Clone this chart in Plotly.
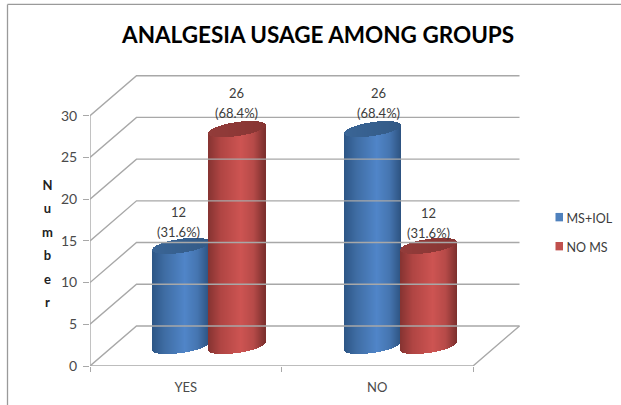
import numpy as np
import plotly.graph_objects as go

# ---- data ----
categories = ["YES", "NO"]
ms_iol = [12, 26]
no_ms = [26, 12]
ms_iol_labels = ["12<br>(31.6%)", "26<br>(68.4%)"]
no_ms_labels = ["26<br>(68.4%)", "12<br>(31.6%)"]
y_ticks = [0, 5, 10, 15, 20, 25, 30]

# ---- geometry (pixels) ----
W, H = 621, 405
PX_L, PX_R, PX_T, PX_B = 90, 525, 70, 365.7
UX = 191.5          # px per category
UY = 250 / 30       # px per unit
DX, DY = 46.5 / UX, 40 / UY   # depth in data units
xr = [-0.5, -0.5 + (PX_R - PX_L) / UX]
yr = [0, (PX_B - PX_T) / UY]
GREY = "#a8a8a8"
TXT = "#4a4a4a"
FONT = "Lato"


def px(a):
    return (a - PX_L) / (PX_R - PX_L)


def py(b):
    return 1 - (b - PX_T) / (PX_B - PX_T)


def hexrgb(c):
    return np.array([int(c[i:i + 2], 16) for i in (1, 3, 5)], float)


def shade(stops, u):
    us = [s[0] for s in stops]
    cols = np.array([hexrgb(s[1]) for s in stops])
    rgb = [np.interp(u, us, cols[:, k]) for k in range(3)]
    return "rgb(%d,%d,%d)" % tuple(int(round(v)) for v in rgb)


BLUE = [(-1, "#2c5585"), (-0.55, "#3f6da4"), (0.15, "#5085c8"), (0.6, "#4575b0"), (1, "#2d5380")]
RED = [(-1, "#853331"), (-0.55, "#b04543"), (0.15, "#cd5452"), (0.6, "#b64a48"), (1, "#7b2f2d")]
BLUE_CAP = [(-1, "#3a6596"), (1, "#335a86")]
RED_CAP = [(-1, "#933c3a"), (1, "#873533")]

HALF = 28.5 / UX   # cylinder half width
TILT = 4 / UY      # rise of the ellipse from centre to right edge
MINOR = 7 / UY     # half height of the ellipse
STRIPS = 57
GROUP_OFF = 28 / UX


def cylinder(xc, value, stops, cap_stops):
    edges = np.linspace(-1, 1, STRIPS + 1)
    u = (edges[:-1] + edges[1:]) / 2
    s = np.sqrt(1 - u ** 2)
    x = xc + DX / 2 + u * HALF
    w = np.full(STRIPS, 2 * HALF / STRIPS)
    bc = DY / 2
    body_base = bc + TILT * u - MINOR * s
    body_top = bc + value + TILT * u - MINOR * s
    cap_top = bc + value + TILT * u + MINOR * s
    return [
        go.Bar(x=x, y=body_top - body_base, base=body_base, width=w,
               marker=dict(color=[shade(stops, v) for v in u], line_width=0),
               showlegend=False, hoverinfo="skip"),
        go.Bar(x=x, y=cap_top - body_top, base=body_top, width=w,
               marker=dict(color=[shade(cap_stops, v) for v in u], line_width=0),
               showlegend=False, hoverinfo="skip"),
    ]


fig = go.Figure()


def line(xs, ys):
    fig.add_trace(go.Scatter(x=xs, y=ys, mode="lines", line=dict(color=GREY, width=1.4),
                             showlegend=False, hoverinfo="skip"))


x0, x1 = -0.5, 1.5
for v in y_ticks:
    line([x0, x0 + DX, x1 + DX], [v, v + DY, v + DY])
line([x0, x0], [0, 30])
line([x0, x1, x1 + DX], [0, 0, DY])

for i in range(len(categories)):
    for t in cylinder(i - GROUP_OFF, ms_iol[i], BLUE, BLUE_CAP):
        fig.add_trace(t)
    for t in cylinder(i + GROUP_OFF, no_ms[i], RED, RED_CAP):
        fig.add_trace(t)

# legend entries (text from the legend; swatches placed close to the text below)
LEG_COL = {"MS+IOL": "#4f81bd", "NO MS": "#c0504d"}
for name in LEG_COL:
    fig.add_trace(go.Scatter(x=[None], y=[None], mode="markers", name=name, legendgroup=name,
                             marker=dict(symbol="square", size=8, color="rgba(0,0,0,0)")))

# data labels
annos = []
label_shift = {(0, 0): (-3, -4), (0, 1): (-1, -2), (1, 0): (6, -2), (1, 1): (0, -5)}
for i in range(len(categories)):
    for j, (vals, labs) in enumerate(((ms_iol, ms_iol_labels), (no_ms, no_ms_labels))):
        off = -GROUP_OFF if j == 0 else GROUP_OFF
        a, b = labs[i].split("<br>")
        sx, sy = label_shift[(i, j)]
        annos.append(dict(
            x=i + off + DX / 2, y=vals[i] + DY / 2 + MINOR + 0.1,
            xref="x", yref="y", yanchor="bottom", xanchor="center",
            xshift=sx, yshift=sy, showarrow=False, align="center",
            text=f'<span style="font-size:13px">{a}</span><br><span style="font-size:13px">{b}</span>',
            font=dict(family=FONT, size=15, color="#3c3c3c"),
        ))

# vertical axis title
letters = "<br>".join(f'<span style="font-size:13px">{c}</span>' for c in "Number")
annos.append(dict(
    x=px(47), y=py(243), xref="paper", yref="paper", showarrow=False, align="center",
    xanchor="center", yanchor="middle",
    text=f"<b>{letters}</b>", font=dict(family=FONT, size=18, color="#222222"),
))

# title
annos.append(dict(
    x=px(317), y=py(35), xref="paper", yref="paper", showarrow=False,
    xanchor="center", yanchor="middle",
    text="<b>ANALGESIA USAGE AMONG GROUPS</b>",
    font=dict(family=FONT, size=22.5, color="#000000"),
))

border = [dict(type="line", xref="paper", yref="paper", layer="below",
               x0=px(a), x1=px(c), y0=py(b), y1=py(d),
               line=dict(color="#9a9a9a", width=1.3))
          for a, b, c, d in [(7.5, 4.5, 621, 4.5), (7.5, 4.5, 7.5, 405)]]
swatches = [dict(type="rect", xref="paper", yref="paper", layer="above",
                 x0=px(555.5), x1=px(563), y0=py(yc - 4.2), y1=py(yc + 4.2),
                 fillcolor=col, line_width=0)
            for yc, col in zip((217, 246), LEG_COL.values())]

fig.update_layout(
    width=W, height=H, autosize=False,
    margin=dict(l=PX_L, r=W - PX_R, t=PX_T, b=H - PX_B, autoexpand=False),
    paper_bgcolor="white", plot_bgcolor="white",
    barmode="overlay", bargap=0,
    font=dict(family=FONT, size=13, color=TXT),
    annotations=annos,
    legend=dict(x=px(526.5), y=py(203), xanchor="left", yanchor="top", tracegroupgap=10,
                font=dict(family=FONT, size=12.5, color="#3c3c3c"),
                itemwidth=30, bgcolor="rgba(0,0,0,0)"),
    xaxis=dict(range=xr, showgrid=False, zeroline=False, showline=False,
               tickmode="array", tickvals=[0, 1], ticktext=categories, ticks="",
               ticklabelstandoff=12,
               minor=dict(tickmode="array", tickvals=[-0.5, 0.5, 1.5], ticks="outside",
                          ticklen=5, tickcolor=GREY, tickwidth=1.2, showgrid=False)),
    yaxis=dict(range=yr, showgrid=False, zeroline=False, showline=False,
               tickmode="array", tickvals=y_ticks, ticks="outside",
               ticklen=6, tickcolor=GREY, tickwidth=1.2, ticklabelstandoff=3,
               tickfont=dict(family=FONT, size=14, color=TXT)),
    shapes=border + swatches,
)

fig.write_html("out.html", config=dict(displayModeBar=False),
               post_script="document.body.style.margin='0';document.documentElement.style.overflow='hidden';")
